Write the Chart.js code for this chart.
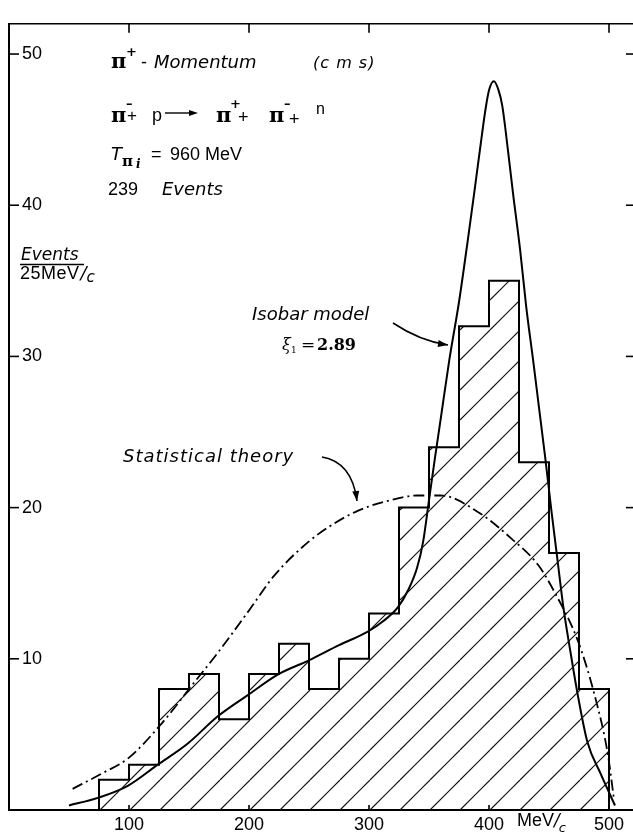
<!DOCTYPE html>
<html>
<head>
<meta charset="utf-8">
<script src="https://cdn.jsdelivr.net/npm/chart.js@4.4.0/dist/chart.umd.min.js"></script>
<style>
  html, body { margin: 0; padding: 0; background: #fff; }
  #wrap { width: 633px; height: 834px; }
</style>
</head>
<body>
<div id="wrap"><canvas id="myChart" width="633" height="834"></canvas></div>
<script>
// histogram, 25 MeV/c bins
const binStarts = [75, 100, 125, 150, 175, 200, 225, 250, 275, 300, 325, 350, 375, 400, 425, 450, 475];
const binWidth = 25;
const counts = [2, 3, 8, 9, 6, 9, 11, 8, 10, 13, 20, 24, 32, 35, 23, 17, 8];

// isobar model curve (xi1 = 2.89)
const isobarX = [50, 74, 99, 124, 149, 174, 199, 225, 250, 275, 299, 312, 324, 333, 340, 345, 350, 355, 360, 367, 375, 382, 388, 393, 397, 400, 404, 408, 411, 416, 420, 426, 431, 437, 442, 447, 452, 457, 462, 468, 474, 482, 493, 505];
const isobarY = [0.3, 0.8, 1.6, 3.0, 4.4, 6.2, 7.6, 9.0, 9.9, 10.9, 11.8, 12.5, 13.4, 14.6, 16.0, 17.7, 20.5, 23.3, 26.0, 29.8, 33.6, 37.5, 41.0, 44.0, 46.3, 47.6, 48.2, 47.6, 46.6, 43.5, 40.8, 37.0, 33.3, 29.6, 26.4, 23.2, 19.8, 16.6, 13.4, 10.4, 7.6, 4.5, 2.4, 0.3];

// statistical theory curve
const statX = [53, 77, 99, 127, 152, 174, 200, 221, 249, 270, 291, 318, 340, 360, 391, 418, 441, 454, 474, 488, 499, 504];
const statY = [1.4, 2.4, 3.4, 5.7, 8.2, 10.4, 13.2, 15.5, 17.7, 18.9, 19.8, 20.5, 20.8, 20.8, 19.7, 18.0, 16.2, 14.5, 11.2, 7.6, 3.7, 0.8];

const xTicks = [100, 200, 300, 400, 500];
const yTicks = [10, 20, 30, 40, 50];

// histogram outline points (stepped)
const histPoints = [{x: binStarts[0], y: 0}];
binStarts.forEach((b, i) => histPoints.push({x: b, y: counts[i]}));
histPoints.push({x: binStarts[binStarts.length - 1] + binWidth, y: 0});

function makeHatch() {
  const c = document.createElement('canvas');
  c.width = 30; c.height = 30;
  const g = c.getContext('2d');
  g.strokeStyle = '#111';
  g.lineWidth = 1.2;
  g.beginPath();
  [10, 40, 70].forEach(k => { g.moveTo(k, 0); g.lineTo(k - 30, 30); });
  g.stroke();
  return g.createPattern(c, 'repeat');
}

const UP = '"Liberation Sans", Arial, sans-serif';
const IT = 'italic 18px "DejaVu Sans", sans-serif';

// draws text and returns the x where it ends
function txt(ctx, s, x, y, font, spacing) {
  ctx.font = font;
  ctx.letterSpacing = spacing || '0px';
  ctx.fillText(s, x, y);
  const w = ctx.measureText(s).width;
  ctx.letterSpacing = '0px';
  return x + w;
}
function seg(ctx, x0, y0, x1, y1) {
  ctx.beginPath(); ctx.moveTo(x0, y0); ctx.lineTo(x1, y1); ctx.stroke();
}
function head(ctx, x, y, dx, dy, len, wid) {
  const l = Math.hypot(dx, dy); dx /= l; dy /= l;
  ctx.beginPath();
  ctx.moveTo(x, y);
  ctx.lineTo(x - dx * len - dy * wid, y - dy * len + dx * wid);
  ctx.lineTo(x - dx * len + dy * wid, y - dy * len - dx * wid);
  ctx.closePath(); ctx.fill();
}
function curvedArrow(ctx, x0, y0, cx, cy, x1, y1) {
  ctx.beginPath(); ctx.moveTo(x0, y0); ctx.quadraticCurveTo(cx, cy, x1, y1); ctx.stroke();
  head(ctx, x1, y1, x1 - cx, y1 - cy, 10, 3.5);
}

const decor = {
  id: 'decor',
  afterDraw(chart) {
    const {ctx, chartArea: a, scales: {x, y}} = chart;
    ctx.save();
    ctx.strokeStyle = '#000';
    ctx.fillStyle = '#000';
    ctx.lineWidth = 1.6;
    // frame top + tick marks
    seg(ctx, a.left, a.top, a.right, a.top);
    xTicks.forEach(v => {
      const px = x.getPixelForValue(v);
      seg(ctx, px, a.top, px, a.top + 9);
      seg(ctx, px, a.bottom, px, a.bottom - 5);
    });
    yTicks.forEach(v => {
      const py = y.getPixelForValue(v);
      seg(ctx, a.left, py, a.left + 10, py);
      seg(ctx, a.right - 7, py, a.right, py);
    });

    ctx.textAlign = 'left';
    ctx.textBaseline = 'alphabetic';
    const PI = 'bold 21px "DejaVu Serif", serif';
    const SUP = 'bold 13px "DejaVu Sans", sans-serif';
    // line 1
    txt(ctx, '\u03c0', 111, 68, PI);
    txt(ctx, '+', 126, 56, SUP);
    txt(ctx, '-', 141, 68, '18px ' + UP);
    txt(ctx, 'Momentum', 154, 68, IT);
    txt(ctx, '(c m s)', 313, 68, 'italic 16px "DejaVu Sans", sans-serif', '1px');
    // line 2 : reaction
    txt(ctx, '\u03c0', 111, 122, PI);
    txt(ctx, '\u2013', 126, 108, SUP);
    txt(ctx, '+', 127, 121, '17px ' + UP);
    txt(ctx, 'p', 152, 121, '18px ' + UP);
    ctx.lineWidth = 1.4;
    seg(ctx, 165, 113, 190, 113);
    head(ctx, 198, 113, 1, 0, 9, 3);
    txt(ctx, '\u03c0', 216, 122, PI);
    txt(ctx, '+', 230, 108, SUP);
    txt(ctx, '+', 238, 123, '18px ' + UP);
    txt(ctx, '\u03c0', 269, 122, PI);
    txt(ctx, '\u2013', 284, 108, SUP);
    txt(ctx, '+', 289, 125, '18px ' + UP);
    txt(ctx, 'n', 316, 114, '16px ' + UP);
    // line 3
    txt(ctx, 'T', 111, 160, IT);
    txt(ctx, '\u03c0', 122, 166, 'bold 15px "DejaVu Serif", serif');
    txt(ctx, 'i', 136, 168, 'bold italic 12px "DejaVu Serif", serif');
    txt(ctx, '=', 151, 160, '18px ' + UP);
    txt(ctx, '960 MeV', 170, 160, '18px ' + UP);
    // line 4
    txt(ctx, '239', 108, 195, '18px ' + UP);
    txt(ctx, 'Events', 162, 195, IT);

    // y axis unit
    txt(ctx, 'Events', 21, 260, 'italic 17px "DejaVu Sans", sans-serif');
    ctx.lineWidth = 1.3;
    seg(ctx, 20, 264.5, 84, 264.5);
    let ex = txt(ctx, '25MeV', 20, 279, '18px ' + UP, '0.5px');
    ex = txt(ctx, '/', ex + 1, 279, 'italic 18px "DejaVu Sans", sans-serif');
    txt(ctx, 'c', ex, 282, 'italic 15px "DejaVu Sans", sans-serif');

    // x axis unit
    ex = txt(ctx, 'MeV', 517, 826, '18px ' + UP);
    ex = txt(ctx, '/', ex, 826, 'italic 17px "DejaVu Sans", sans-serif');
    txt(ctx, 'c', ex - 1, 832, 'italic 13px "DejaVu Sans", sans-serif');

    // curve captions
    txt(ctx, 'Isobar model', 252, 320, IT);
    txt(ctx, '\u03be', 282, 350, 'italic 16px "DejaVu Serif", serif');
    txt(ctx, '1', 291, 353, '9px "DejaVu Serif", serif');
    txt(ctx, '=', 301, 350, '17px "DejaVu Serif", serif');
    txt(ctx, '2.89', 317, 350, 'bold 16px "DejaVu Serif", serif');
    txt(ctx, 'Statistical theory', 123, 462, IT, '1px');

    ctx.lineWidth = 1.6;
    curvedArrow(ctx, 393, 323, 420, 341, 448, 345);
    curvedArrow(ctx, 322, 457, 352, 462, 357, 501);
    ctx.restore();
  }
};

const ctx = document.getElementById('myChart').getContext('2d');
const chart = new Chart(ctx, {
  type: 'line',
  data: {
    datasets: [{
      label: 'Events',
      data: histPoints,
      stepped: 'before',
      borderColor: '#000',
      borderWidth: 2,
      backgroundColor: makeHatch(),
      fill: 'origin',
      pointRadius: 0
    }, {
      label: 'Isobar model',
      data: isobarX.map((v, i) => ({x: v, y: isobarY[i]})),
      borderColor: '#000',
      borderWidth: 2,
      cubicInterpolationMode: 'monotone',
      fill: false,
      pointRadius: 0
    }, {
      label: 'Statistical theory',
      data: statX.map((v, i) => ({x: v, y: statY[i]})),
      borderColor: '#000',
      borderWidth: 1.8,
      borderDash: [11, 4, 2, 4],
      cubicInterpolationMode: 'monotone',
      fill: false,
      pointRadius: 0
    }]
  },
  options: {
    responsive: false,
    animation: false,
    layout: { padding: { left: 9, top: 8, right: 0, bottom: 0 } },
    plugins: { legend: { display: false }, tooltip: { enabled: false } },
    scales: {
      x: {
        type: 'linear',
        min: 0,
        max: 520,
        afterBuildTicks: axis => { axis.ticks = xTicks.map(v => ({value: v})); },
        afterFit: axis => { axis.height = 24; },
        grid: { display: false, drawTicks: false },
        border: { display: true, color: '#000', width: 2 },
        ticks: { color: '#000', padding: 4, font: { family: 'Liberation Sans', size: 18 } }
      },
      y: {
        min: 0,
        max: 52,
        afterBuildTicks: axis => { axis.ticks = yTicks.map(v => ({value: v})); },
        afterFit: axis => { axis.width = 0; },
        grid: { display: false, drawTicks: false },
        border: { display: true, color: '#000', width: 2 },
        ticks: { color: '#000', mirror: true, padding: 13, font: { family: 'Liberation Sans', size: 18 } }
      }
    }
  },
  plugins: [decor]
});
</script>
</body>
</html>
